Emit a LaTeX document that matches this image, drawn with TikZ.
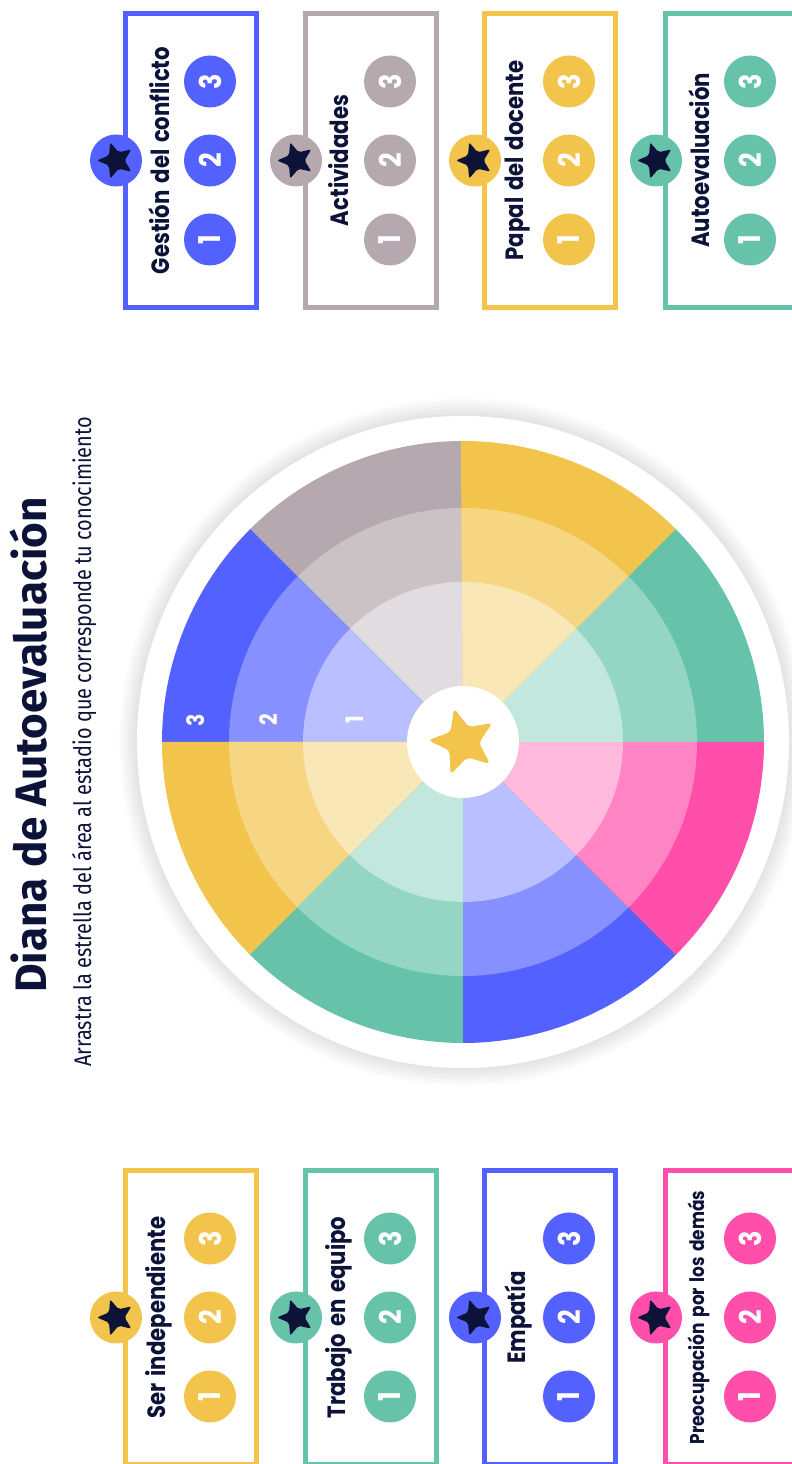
\documentclass[tikz,border=0pt]{standalone}
\usepackage{fontspec}
\setmainfont{Fira Sans}
\newfontfamily\cardfont[FakeStretch=0.85, WordSpace=1.5]{Poppins}
\newfontfamily\subfont[FakeStretch=0.83]{Fira Sans}
\usetikzlibrary{shapes.geometric,positioning}
\definecolor{dnavy}{HTML}{0C1238}
\definecolor{dblue}{HTML}{5361FF}
\definecolor{dgray}{HTML}{B5A8AE}
\definecolor{dyellow}{HTML}{F2C44C}
\definecolor{dgreen}{HTML}{66C3A9}
\definecolor{dpink}{HTML}{FF4FAA}
\tikzset{
  card/.style={draw=#1, line width=5pt, minimum width=131pt, minimum height=294pt, inner sep=0pt},
  level/.style={circle, fill=#1, minimum size=52pt, inner sep=0pt, rotate=90, text=white,
    font=\cardfont\bfseries\fontsize{30}{30}\selectfont},
  badge/.style={circle, fill=#1, minimum size=52pt, inner sep=0pt},
  starmark/.style={star, star points=5, star point ratio=2.2, fill=#1, inner sep=0pt, rounded corners=2pt},
  cardlabel/.style={rotate=90, inner sep=0pt, text=dnavy},
  ringnum/.style={rotate=90, text=white, font=\cardfont\bfseries\fontsize{24}{24}\selectfont},
}

\begin{document}
\begin{tikzpicture}[x=1pt,y=1pt]
\useasboundingbox (0,0) rectangle (792,1464);
\clip (0,0) rectangle (792,1464);
\fill[white] (0,0) rectangle (792,1464);

\node[rotate=90, anchor=base, text=dnavy, font=\bfseries\fontsize{44}{44}\selectfont] (title) at (46,719) {Diana de Autoevaluación};
\node[rotate=90, anchor=base, text=dnavy, font=\subfont\fontsize{24}{24}\selectfont] (subtitle) at (91,722) {Arrastra la estrella del área al estadio que corresponde tu conocimiento};

% diana
\coordinate (W) at (463,722);
\foreach \r in {344,342,...,328}
  \fill[black, opacity=0.011] (W) circle (\r);
\fill[white] (W) circle (326);
\foreach \a/\c in {90/dgray,135/dblue,180/dyellow,225/dgreen,270/dblue,315/dpink,0/dgreen,45/dyellow}
{
  \fill[\c] (W) -- ++(\a:301) arc[start angle=\a, end angle=\a+45.4, radius=301] -- cycle;
  \fill[\c!70!white] (W) -- ++(\a:234) arc[start angle=\a, end angle=\a+45.4, radius=234] -- cycle;
  \fill[\c!40!white] (W) -- ++(\a:160) arc[start angle=\a, end angle=\a+45.4, radius=160] -- cycle;
}
\node[circle, fill=white, minimum size=112pt, inner sep=0pt] (hub) at (W) {};
\node[starmark=dyellow, minimum size=70pt, rotate=87, rounded corners=4pt] (hubstar) at (hub) {};
\node[ringnum] (ring-3) at ([shift={(-267,22)}]W) {3};
\node[ringnum] (ring-2) at ([shift={(-194,22)}]W) {2};
\node[ringnum] (ring-1) at ([shift={(-108,22)}]W) {1};

% tarjetas
\foreach \name/\txt/\col/\cx/\cy/\fs in {
  conflicto/Gestión del conflicto/dblue/191/1303.5/25,
  actividades/Actividades/dgray/371/1303.5/25,
  docente/Papal del docente/dyellow/550/1303.5/25,
  autoeval/Autoevaluación/dgreen/731/1303.5/25,
  indep/Ser independiente/dyellow/191/146.5/25,
  equipo/Trabajo en equipo/dgreen/371/146.5/25,
  empatia/Empatía/dblue/550/146.5/25,
  demas/Preocupación por los demás/dpink/731/146.5/20}
{
  \node[card=\col] (\name) at (\cx,\cy) {};
  \node[badge=\col] (\name-badge) at (\cx-75,\cy) {};
  \node[starmark=dnavy, minimum size=38pt, rotate=90] (\name-star) at (\name-badge) {};
  \node[cardlabel, font=\cardfont\bfseries\fontsize{\fs}{\fs}\selectfont] (\name-label) at (\cx-32,\cy) {\txt};
  \node[level=\col] (\name-1) at (\cx+19,\cy-79) {1};
  \node[level=\col] (\name-2) at (\cx+19,\cy) {2};
  \node[level=\col] (\name-3) at (\cx+19,\cy+79) {3};
}
\end{tikzpicture}
\end{document}
